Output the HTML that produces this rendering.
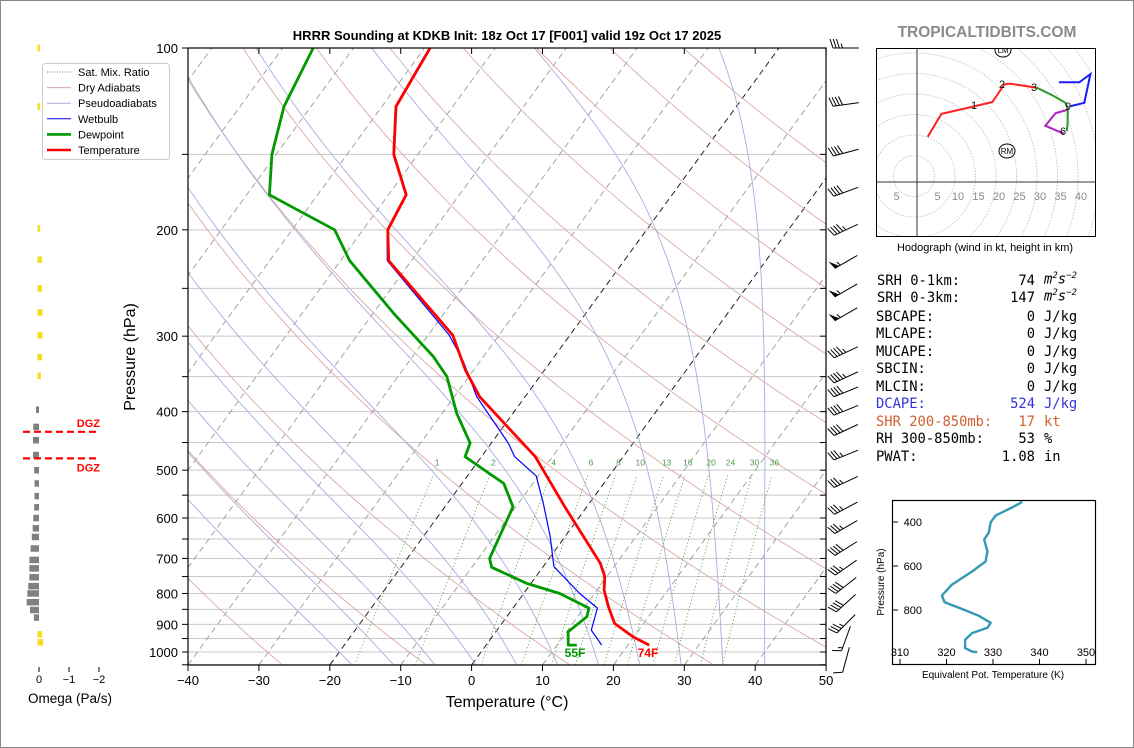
<!DOCTYPE html>
<html><head><meta charset="utf-8"><style>
html,body{margin:0;padding:0;background:#fff;}
body{width:1134px;height:748px;overflow:hidden;position:relative;font-family:"Liberation Sans","DejaVu Sans",sans-serif;}
#frame{position:absolute;left:0;top:0;width:1132px;height:746px;border:1px solid #888;}
svg{position:absolute;left:0;top:0;}
.mono{font-family:"DejaVu Sans Mono","Liberation Mono",monospace;font-size:13.8px;}
.mono div{white-space:nowrap;}
</style></head><body>
<div id="frame"></div>
<svg id="fig" width="1134" height="748" viewBox="0 0 1134 748">
<defs><clipPath id="plotclip"><rect x="188" y="48" width="638" height="617"/></clipPath>
<clipPath id="hodoclip"><rect x="876" y="48" width="220" height="189"/></clipPath>
<clipPath id="thclip"><rect x="892" y="500" width="204" height="165"/></clipPath></defs>
<text x="507" y="40" text-anchor="middle" font-size="13" font-weight="bold">HRRR Sounding at KDKB Init: 18z Oct 17 [F001] valid 19z Oct 17 2025</text>
<text x="987" y="37" text-anchor="middle" font-size="15.5" font-weight="bold" fill="#8a8a8a">TROPICALTIDBITS.COM</text>
<text x="135" y="357" text-anchor="middle" font-size="16" transform="rotate(-90 135 357)">Pressure (hPa)</text>
<text x="507" y="707" text-anchor="middle" font-size="16">Temperature (°C)</text>
<text x="70" y="703" text-anchor="middle" font-size="13.5">Omega (Pa/s)</text>
<text x="985" y="251" text-anchor="middle" font-size="11">Hodograph (wind in kt, height in km)</text>
<g id="bg"></g><g id="series"></g><g id="axes"></g>
</svg>
<div class="mono" style="position:absolute;left:0;top:0;">
<div style="position:absolute;left:877px;top:273px;">SRH 0-1km:</div><div style="position:absolute;left:935px;width:100px;top:273px;text-align:right;">74</div><div style="position:absolute;left:1044px;top:271px;font-style:italic;">m<sup style="font-size:9px">2</sup>s<sup style="font-size:9px">−2</sup></div>
<div style="position:absolute;left:877px;top:290px;">SRH 0-3km:</div><div style="position:absolute;left:935px;width:100px;top:290px;text-align:right;">147</div><div style="position:absolute;left:1044px;top:288px;font-style:italic;">m<sup style="font-size:9px">2</sup>s<sup style="font-size:9px">−2</sup></div>
<div style="position:absolute;left:876px;top:309px;">SBCAPE:</div><div style="position:absolute;left:935px;width:100px;top:309px;text-align:right;">0</div><div style="position:absolute;left:1044px;top:309px;">J/kg</div>
<div style="position:absolute;left:876px;top:326px;">MLCAPE:</div><div style="position:absolute;left:935px;width:100px;top:326px;text-align:right;">0</div><div style="position:absolute;left:1044px;top:326px;">J/kg</div>
<div style="position:absolute;left:876px;top:344px;">MUCAPE:</div><div style="position:absolute;left:935px;width:100px;top:344px;text-align:right;">0</div><div style="position:absolute;left:1044px;top:344px;">J/kg</div>
<div style="position:absolute;left:876px;top:361px;">SBCIN:</div><div style="position:absolute;left:935px;width:100px;top:361px;text-align:right;">0</div><div style="position:absolute;left:1044px;top:361px;">J/kg</div>
<div style="position:absolute;left:876px;top:379px;">MLCIN:</div><div style="position:absolute;left:935px;width:100px;top:379px;text-align:right;">0</div><div style="position:absolute;left:1044px;top:379px;">J/kg</div>
<div style="position:absolute;left:876px;top:396px;color:#3434d8;">DCAPE:</div><div style="position:absolute;left:935px;width:100px;top:396px;text-align:right;color:#3434d8;">524</div><div style="position:absolute;left:1044px;top:396px;color:#3434d8;">J/kg</div>
<div style="position:absolute;left:876px;top:414px;color:#d2602e;">SHR 200-850mb:</div><div style="position:absolute;left:935px;width:100px;top:414px;text-align:right;color:#d2602e;">17</div><div style="position:absolute;left:1044px;top:414px;color:#d2602e;">kt</div>
<div style="position:absolute;left:876px;top:431px;">RH 300-850mb:</div><div style="position:absolute;left:935px;width:100px;top:431px;text-align:right;">53</div><div style="position:absolute;left:1044px;top:431px;">%</div>
<div style="position:absolute;left:876px;top:449px;">PWAT:</div><div style="position:absolute;left:935px;width:100px;top:449px;text-align:right;">1.08</div><div style="position:absolute;left:1044px;top:449px;">in</div>
</div>
<script>
// ---- data ----
const tempP = [974, 944, 897, 841, 790, 750, 713, 575, 475, 378, 341, 299, 225, 200, 175, 150, 125, 100];
const tempT = [23.0, 19.9, 15.9, 13.3, 11.0, 9.7, 7.7, -3.1, -12.4, -26.4, -31.2, -36.5, -53.2, -56.5, -57.5, -63.4, -68.0, -69.2];
const dewP = [974, 974, 926, 874, 846, 800, 770, 724, 700, 575, 526, 475, 451, 403, 350, 324, 275, 225, 200, 175, 150, 125, 100];
const dewT = [12.8, 11.6, 10.2, 11.3, 10.7, 5.1, -0.6, -7.2, -8.4, -10.4, -14.1, -22.3, -23.0, -27.9, -33.1, -37.1, -47.1, -58.7, -64.0, -76.8, -80.6, -83.8, -85.7];
const wbP = [974, 920, 846, 800, 722, 644, 567, 511, 475, 451, 378, 329, 299, 225, 200, 175, 150, 125, 100];
const wbT = [16.3, 13.3, 11.9, 7.9, 1.5, -2.1, -6.5, -10.3, -15.3, -17.6, -26.8, -32.5, -37.0, -53.4, -56.6, -57.6, -63.5, -68.1, -69.3];
const barbP = [100, 124, 149, 173, 200, 226, 252, 276, 319, 351, 371, 398, 429, 472, 523, 578, 621, 674, 725, 776, 830, 898, 950, 1030];
const barbSpd = [35, 40, 40, 40, 45, 55, 55, 55, 45, 45, 40, 40, 40, 35, 35, 35, 35, 40, 35, 40, 40, 35, 15, 10];
const barbDir = [270, 262, 255, 250, 245, 240, 240, 240, 245, 245, 248, 248, 245, 248, 245, 242, 240, 238, 235, 232, 228, 225, 200, 195];
const omegaGreyP = [397, 424, 446, 472, 500, 526, 552, 576, 600, 624, 645, 674, 704, 727, 752, 778, 800, 827, 852, 877];
const omegaGreyV = [0.1, 0.19, 0.2, 0.2, 0.16, 0.15, 0.15, 0.16, 0.19, 0.21, 0.24, 0.28, 0.32, 0.32, 0.32, 0.36, 0.39, 0.41, 0.3, 0.17];
const omegaYelP = [100, 125, 199, 224, 250, 274, 299, 325, 349, 935, 964];
const omegaYelV = [-0.04, -0.04, -0.04, -0.1, -0.1, -0.12, -0.12, -0.1, -0.06, -0.1, -0.14];
const dgzP = [432, 478];
const hodoRedU = [2.6, 5.95, 14.2, 18.4, 21.3, 22.6, 29.2];
const hodoRedV = [11.5, 17.1, 19.0, 20.0, 24.3, 24.5, 23.5];
const hodoGreenU = [29.2, 33.3, 36.2, 36.8, 36.7, 36.5];
const hodoGreenV = [23.5, 21.5, 19.8, 18.5, 14.4, 12.9];
const hodoMagU = [35.8, 31.3, 33.8, 36.7];
const hodoMagV = [12.3, 14.2, 17.3, 18.1];
const hodoBlueU = [37.5, 40.8, 42.3, 39.6, 34.6];
const hodoBlueV = [19.0, 19.8, 26.8, 24.8, 24.8];
const thetaE = [336.3, 334.3, 330.6, 329.5, 329.1, 328.1, 328.8, 328.4, 325.5, 321.1, 319.0, 319.6, 323.3, 326.9, 329.5, 328.8, 325.5, 324.0, 324.0, 325.5, 326.6];
const thetaEP = [308, 332, 370, 401, 448, 479, 533, 579, 625, 686, 734, 765, 795, 826, 858, 881, 905, 935, 973, 989, 992];
const pTickLabels = [100, 200, 300, 400, 500, 600, 700, 800, 900, 1000];
const tTickLabels = [-40, -30, -20, -10, 0, 10, 20, 30, 40, 50];
const mixRatios = [1, 2, 4, 6, 8, 10, 13, 16, 20, 24, 30, 36];

// ---- scales ----
const NS = "http://www.w3.org/2000/svg";
const yP = p => 48 + 604 * Math.log10(p / 100);
const xT = (T, p) => 188 + (T + 40) * 7.09 + 0.728 * (665 - yP(p));
const omX = v => 39 - v * 30;
const HX0 = 917, HY0 = 184, HS = 4.1;
const hx = u => HX0 + u * HS, hy = v => HY0 - v * HS;
const thX = th => 900 + (th - 310) * 4.65;
const thY = p => 522 + (p - 400) * 0.22;

function mk(tag, attrs, parent) {
  const el = document.createElementNS(NS, tag);
  for (const k in attrs) el.setAttribute(k, attrs[k]);
  parent.appendChild(el);
  return el;
}
const bg = document.getElementById('bg');
const series = document.getElementById('series');
const axes = document.getElementById('axes');
const bgc = mk('g', {'clip-path': 'url(#plotclip)'}, bg);



function pathFrom(pts) { return pts.map((q, i) => (i ? 'L' : 'M') + q[0].toFixed(1) + ' ' + q[1].toFixed(1)).join(''); }

// isobars
for (let p = 150; p <= 1050; p += 50) {
  const l = mk('line', {x1: 188, x2: 826, y1: yP(p), y2: yP(p), stroke: '#c8c8c8', 'stroke-width': 1}, bgc);
  
  
}
// isotherms
for (let T = -140; T <= 50; T += 10) {
  const c = (T === 0 || T === -20);
  const l = mk('line', {x1: xT(T, 1050), y1: yP(1050), x2: xT(T, 100), y2: yP(100), stroke: c ? '#222' : '#999', 'stroke-width': c ? 1 : 0.9, 'stroke-dasharray': '6 4'}, bgc);
  
  
}
// dry adiabats
for (let th = 243; th <= 480; th += 20) {
  const pts = [];
  for (let p = 1050; p >= 100; p -= 10) pts.push([xT(th * Math.pow(p / 1000, 0.286) - 273.15, p), yP(p)]);
  const l = mk('path', {d: pathFrom(pts), fill: 'none', stroke: '#dba8a8', 'stroke-width': 0.9}, bgc);
  
  
}
// moist adiabats
function es(Tc) { return 6.112 * Math.exp(17.67 * Tc / (Tc + 243.5)); }
function moist(T0) {
  const Rd = 287.04, Cp = 1005.7, Lv = 2.501e6, eps = 0.622;
  const grad = (T, p) => { const rs = eps * es(T - 273.15) / (p - es(T - 273.15)); return (1 / p) * (Rd * T + Lv * rs) / (Cp + Lv * Lv * rs * eps / (Rd * T * T)); };
  let pts = [], T = T0 + 273.15;
  for (let p = 1000; p <= 1050; p += 5) { pts.unshift([p, T]); T += grad(T, p) * 5; }
  T = T0 + 273.15;
  const up = [];
  for (let p = 1000; p >= 100; p -= 5) { up.push([p, T]); T -= grad(T, p) * 5; }
  return pts.concat(up.slice(1)).map(q => [xT(q[1] - 273.15, q[0]), yP(q[0])]);
}
for (let T0 = -20; T0 <= 44; T0 += 6) {
  const l = mk('path', {d: pathFrom(moist(T0)), fill: 'none', stroke: '#ababdf', 'stroke-width': 0.9}, bgc);
  
  
}
// mixing ratio
function tW(w, p) { const e = w * p / (622 + w); const a = Math.log(e / 6.112); return 243.5 * a / (17.67 - a); }
mixRatios.forEach(w => {
  const pts = [];
  for (let p = 1050; p >= 510; p -= 10) pts.push([xT(tW(w, p), p), yP(p)]);
  const l = mk('path', {d: pathFrom(pts), fill: 'none', stroke: '#3c9a3c', 'stroke-width': 0.9, 'stroke-dasharray': '1 2.5'}, bgc);
  
  
  const t = mk('text', {x: xT(tW(w, 493), 493), y: yP(493) - 1, 'font-size': 8.5, fill: '#4c9a4c', 'text-anchor': 'middle'}, bgc);
  
  
  t.textContent = w;
});

// series
const sg = mk('g', {'clip-path': 'url(#plotclip)'}, series);


function profile(P, T, color, w, name) {
  const l = mk('path', {d: pathFrom(P.map((p, i) => [xT(T[i], p), yP(p)])), fill: 'none', stroke: color, 'stroke-width': w, 'stroke-linejoin': 'round'}, sg);
  
  
}
profile(wbP, wbT, '#0000ff', 1.2, 'wetbulb-line');
profile(dewP, dewT, '#009900', 2.8, 'dewpoint-line');
profile(tempP, tempT, '#ff0000', 2.8, 'temperature-line');
const lblD = mk('text', {x: 575, y: 657, 'font-size': 12, 'font-weight': 'bold', fill: '#009900', 'text-anchor': 'middle'}, series);


lblD.textContent = '55F';
const lblT = mk('text', {x: 648, y: 657, 'font-size': 12, 'font-weight': 'bold', fill: '#ff0000', 'text-anchor': 'middle'}, series);


lblT.textContent = '74F';

// axes frame
const fr = mk('rect', {x: 188, y: 48, width: 638, height: 617, fill: 'none', stroke: '#000', 'stroke-width': 1.2}, axes);


for (let p = 100; p <= 1050; p += 50) {
  const tk = mk('line', {x1: 182, x2: 188, y1: yP(p), y2: yP(p), stroke: '#000'}, axes);
  
  
  const tk2 = mk('line', {x1: 820, x2: 826, y1: yP(p), y2: yP(p), stroke: '#000'}, axes);
  
  
}
pTickLabels.forEach(p => {
  const t = mk('text', {x: 178, y: yP(p) + 5, 'font-size': 13, 'text-anchor': 'end'}, axes);
  
  
  t.textContent = p;
});
tTickLabels.forEach(T => {
  const x = 188 + (T + 40) * 7.09;
  const tk = mk('line', {x1: x, x2: x, y1: 665, y2: 671, stroke: '#000'}, axes);
  
  
  const tk2 = mk('line', {x1: x, x2: x, y1: 48, y2: 54, stroke: '#000'}, axes);
  
  
  const t = mk('text', {x: x, y: 685, 'font-size': 13, 'text-anchor': 'middle'}, axes);
  
  
  t.textContent = T < 0 ? '\u2212' + Math.abs(T) : T;
});

// wind barbs
barbP.forEach((p, i) => {
  const g = mk('g', {}, axes);
  
  
  const d = barbDir[i] * Math.PI / 180;
  const dx = Math.sin(d), dy = -Math.cos(d); // upwind direction in screen coords
  const L = 26, cx = 846, cy = yP(p);
  const tx = cx - dx * L / 2, ty = cy - dy * L / 2;
  const fx = cx + dx * L / 2, fy = cy + dy * L / 2;
  const st = mk('line', {x1: tx, y1: ty, x2: fx, y2: fy, stroke: '#000', 'stroke-width': 1}, g);
  
  
  const nx = -dy, ny = dx;
  let s = Math.round(barbSpd[i] / 5) * 5, pos = 0;
  const step = 3.2, fl = 9;
  while (s >= 50) {
    const ax = fx - dx * pos, ay = fy - dy * pos;
    const bx = fx - dx * (pos + 5), by = fy - dy * (pos + 5);
    const f = mk('polygon', {points: `${ax},${ay} ${ax + nx * fl + dx * 2},${ay + ny * fl + dy * 2} ${bx},${by}`, fill: '#000'}, g);
    
    
    pos += 6.5; s -= 50;
  }
  while (s >= 10) {
    const ax = fx - dx * pos, ay = fy - dy * pos;
    const f = mk('line', {x1: ax, y1: ay, x2: ax + nx * fl + dx * 3, y2: ay + ny * fl + dy * 3, stroke: '#000'}, g);
    
    
    pos += step; s -= 10;
  }
  if (s >= 5) {
    if (pos === 0) pos = step;
    const ax = fx - dx * pos, ay = fy - dy * pos;
    const f = mk('line', {x1: ax, y1: ay, x2: ax + nx * fl / 2 + dx * 1.5, y2: ay + ny * fl / 2 + dy * 1.5, stroke: '#000'}, g);
    
    
  }
});

// omega panel
omegaGreyP.forEach((p, i) => {
  const h = 6.5;
  const r = mk('rect', {x: omX(omegaGreyV[i]), y: yP(p) - h / 2, width: 39 - omX(omegaGreyV[i]), height: h, fill: '#808080'}, axes);
  
  
});
omegaYelP.forEach((p, i) => {
  const h = 6.5;
  const r = mk('rect', {x: 37.5, y: yP(p) - h / 2, width: omX(omegaYelV[i]) - 37.5, height: h, fill: '#f5dc1e'}, axes);
  
  
});
dgzP.forEach((p, i) => {
  const l = mk('line', {x1: 23, x2: 99, y1: yP(p), y2: yP(p), stroke: '#ff0000', 'stroke-width': 2.2, 'stroke-dasharray': '7 4'}, axes);
  
  
  const t = mk('text', {x: 100, y: i === 0 ? yP(p) - 5 : yP(p) + 13, 'font-size': 11, 'font-weight': 'bold', fill: '#ff0000', 'text-anchor': 'end'}, axes);
  
  
  t.textContent = 'DGZ';
});
[0, -1, -2].forEach(v => {
  const tk = mk('line', {x1: omX(v), x2: omX(v), y1: 667, y2: 672, stroke: '#000'}, axes);
  
  
  const t = mk('text', {x: omX(v), y: 683, 'font-size': 11, 'text-anchor': 'middle'}, axes);
  
  
  t.textContent = v === 0 ? '0' : '\u2212' + Math.abs(v);
});

// legend
const lg = mk('g', {}, axes);


const lb = mk('rect', {x: 42.5, y: 63.5, width: 127, height: 96, rx: 3, fill: '#fff', stroke: '#ccc'}, lg);


const legNames = ['Sat. Mix. Ratio', 'Dry Adiabats', 'Pseudoadiabats', 'Wetbulb', 'Dewpoint', 'Temperature'];
const legCols = ['#3c9a3c', '#dba8a8', '#ababdf', '#0000ff', '#009900', '#ff0000'];
const legW = [0.9, 1, 1, 1, 2.6, 2.6];
legNames.forEach((n, i) => {
  const y = 72 + i * 15.6;
  const l = mk('line', {x1: 47, x2: 71, y1: y, y2: y, stroke: legCols[i], 'stroke-width': legW[i]}, lg);
  if (i === 0) l.setAttribute('stroke-dasharray', '1 1.5');
  
  
  const t = mk('text', {x: 78, y: y + 4, 'font-size': 11}, lg);
  
  
  t.textContent = n;
});

// hodograph
const hg = mk('g', {}, axes);


const hc = mk('g', {'clip-path': 'url(#hodoclip)'}, hg);
for (let r = 5; r <= 80; r += 5) {
  const c = mk('circle', {cx: 914, cy: 176, r: r * HS, fill: 'none', stroke: '#bbb', 'stroke-width': 0.8, 'stroke-dasharray': '1.5 1.5'}, hc);
  
  
}
const ha1 = mk('line', {x1: HX0, x2: HX0, y1: 48, y2: 237, stroke: '#333', 'stroke-width': 1}, hc);


const ha2 = mk('line', {x1: 876, x2: 1096, y1: 182, y2: 182, stroke: '#333', 'stroke-width': 1}, hc);


[-5, 5, 10, 15, 20, 25, 30, 35, 40].forEach(k => {
  const t = mk('text', {x: hx(k), y: 200, 'font-size': 11, fill: '#888', 'text-anchor': 'middle'}, hc);
  
  
  t.textContent = Math.abs(k);
});
function hodoLine(U, V, col, name) {
  const l = mk('path', {d: pathFrom(U.map((u, i) => [hx(u), hy(V[i])])), fill: 'none', stroke: col, 'stroke-width': 2}, hc);
  
  
}
hodoLine(hodoRedU, hodoRedV, '#ff2020', 'hodograph-0-3km');
hodoLine(hodoGreenU, hodoGreenV, '#2a9a2a', 'hodograph-3-6km');
hodoLine(hodoMagU, hodoMagV, '#b020c0', 'hodograph-6-9km');
hodoLine(hodoBlueU, hodoBlueV, '#1a1aff', 'hodograph-9-12km');
[['1', 974, 109], ['2', 1002, 88], ['3', 1034, 91], ['9', 1068, 110], ['6', 1063, 135]].forEach(a => {
  const t = mk('text', {x: a[1], y: a[2], 'font-size': 11, 'text-anchor': 'middle', fill: '#111'}, hc);
  
  
  t.textContent = a[0];
});
[['LM', 1003, 50], ['RM', 1007, 151]].forEach(a => {
  const e = mk('ellipse', {cx: a[1], cy: a[2], rx: 8, ry: 7, fill: '#fff', stroke: '#000', 'stroke-width': 1}, hc);
  
  
  const t = mk('text', {x: a[1], y: a[2] + 3, 'font-size': 8, 'text-anchor': 'middle'}, hc);
  
  
  t.textContent = a[0];
});
const hb = mk('rect', {x: 876.5, y: 48.5, width: 219, height: 188, fill: 'none', stroke: '#000'}, hg);



// theta-e inset
const tg = mk('g', {}, axes);


const tl = mk('path', {d: pathFrom(thetaE.map((t, i) => [thX(t), thY(thetaEP[i])])), fill: 'none', stroke: '#3399b5', 'stroke-width': 2.4, 'stroke-linejoin': 'round', 'clip-path': 'url(#thclip)'}, tg);


const tb = mk('rect', {x: 892.5, y: 500.5, width: 203, height: 164, fill: 'none', stroke: '#000', 'stroke-width': 1.2}, tg);


[400, 600, 800].forEach(p => {
  const tk = mk('line', {x1: 892, x2: 898, y1: thY(p), y2: thY(p), stroke: '#000'}, tg);
  
  
  const t = mk('text', {x: 922, y: thY(p) + 4, 'font-size': 11, 'text-anchor': 'end'}, tg);
  
  
  t.textContent = p;
});
[310, 320, 330, 340, 350].forEach(k => {
  const tk = mk('line', {x1: thX(k), x2: thX(k), y1: 659, y2: 665, stroke: '#000'}, tg);
  
  
  const t = mk('text', {x: thX(k), y: 656, 'font-size': 11, 'text-anchor': 'middle'}, tg);
  
  
  t.textContent = k;
});
const ty = mk('text', {x: 884, y: 582, 'font-size': 10, 'text-anchor': 'middle', transform: 'rotate(-90 884 582)'}, tg);


ty.textContent = 'Pressure (hPa)';
const tx2 = mk('text', {x: 993, y: 678, 'font-size': 10, 'text-anchor': 'middle'}, tg);


tx2.textContent = 'Equivalent Pot. Temperature (K)';
</script>
</body></html>
